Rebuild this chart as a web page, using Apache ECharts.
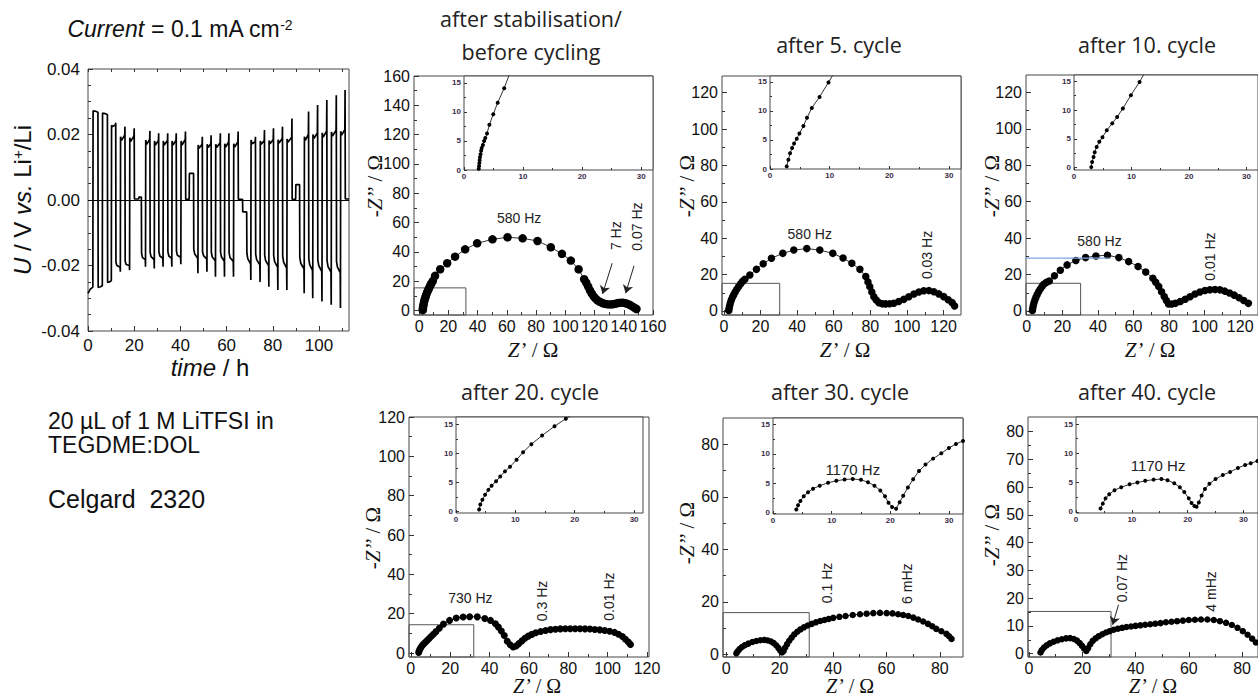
<!DOCTYPE html>
<html>
<head>
<meta charset="utf-8">
<script src="https://cdn.jsdelivr.net/npm/echarts@6/dist/echarts.min.js"></script>
<style>
  html, body { margin: 0; padding: 0; background: #fff; }
  #chart { width: 1258px; height: 699px; }
</style>
</head>
<body>
<div id="chart"></div>
<script>
// ---------- galvanostatic cycling: voltage vs time, one array per block of five cycles ----------
const voltageBlock1 = [
  [0,-0.0285],[1.0,-0.0272],[2.1,-0.0266],
  [2.2,0.0272],[3.3,0.0271],[4.3,0.0268],
  [4.4,-0.0267],[5.4,-0.0265],[6.2,-0.0262],
  [6.3,0.0265],[7.4,0.0264],[8.4,0.0260],
  [8.5,-0.0252],[9.4,-0.0250],[10.1,-0.0246],
  [10.2,0.0228],[10.6,0.0224],[11.9,0.0230],[12.0,0.0236],
  [12.1,-0.0190],[12.5,-0.0200],[13.9,-0.0205],[14.0,-0.0219],
  [14.1,0.0193],[14.5,0.0182],[15.9,0.0198],[16.0,0.0224],
  [16.1,-0.0187],[16.5,-0.0197],[17.9,-0.0200],[18.0,-0.0214],
  [18.1,0.0190],[18.5,0.0179],[19.9,0.0196],[20.0,0.0219],
  [20.1,0.0003],[22.0,0.0003],[22.05,0.0009],[23.1,0.0009]
];
const voltageBlock2 = [
  [23.2,-0.0163],[23.6,-0.0176],[24.8,-0.0182],[24.9,-0.0204],
  [25.0,0.0183],[25.4,0.0170],[26.7,0.0185],[26.8,0.0211],
  [26.9,-0.0160],[27.3,-0.0173],[28.6,-0.0182],[28.7,-0.0209],
  [28.8,0.0180],[29.2,0.0168],[30.5,0.0182],[30.6,0.0204],
  [30.7,-0.0158],[31.1,-0.0171],[32.4,-0.0178],[32.5,-0.0204],
  [32.6,0.0180],[33.0,0.0168],[34.4,0.0182],[34.5,0.0204],
  [34.6,-0.0158],[35.0,-0.0171],[36.2,-0.0178],[36.3,-0.0204],
  [36.4,0.0180],[36.8,0.0168],[38.1,0.0182],[38.2,0.0204],
  [38.3,-0.0156],[38.7,-0.0169],[40.1,-0.0175],[40.2,-0.0196],
  [40.3,0.0180],[40.7,0.0168],[42.1,0.0185],[42.2,0.0209],
  [42.3,0.0002],[43.8,0.0002],[43.9,0.0081],[45.7,0.0081]
];
const voltageBlock3 = [
  [45.8,-0.0150],[46.2,-0.0165],[47.5,-0.0178],[47.6,-0.0224],
  [47.7,0.0168],[48.1,0.0158],[49.4,0.0170],[49.5,0.0193],
  [49.6,-0.0158],[50.0,-0.0170],[51.4,-0.0180],[51.5,-0.0219],
  [51.6,0.0170],[52.0,0.0160],[53.2,0.0172],[53.3,0.0198],
  [53.4,-0.0160],[53.8,-0.0174],[55.1,-0.0185],[55.2,-0.0234],
  [55.3,0.0170],[55.7,0.0160],[57.2,0.0175],[57.3,0.0204],
  [57.4,-0.0160],[57.8,-0.0174],[59.0,-0.0187],[59.1,-0.0234],
  [59.2,0.0172],[59.6,0.0162],[60.9,0.0177],[61.0,0.0204],
  [61.1,-0.0162],[61.5,-0.0176],[62.9,-0.0188],[63.0,-0.0234],
  [63.1,0.0172],[63.5,0.0162],[64.9,0.0178],[65.0,0.0209],
  [65.1,0.0002],[66.9,0.0002],[67.0,-0.0036],[68.7,-0.0036]
];
const voltageBlock4 = [
  [68.8,-0.0163],[69.2,-0.0180],[70.4,-0.0195],[70.5,-0.0244],
  [70.6,0.0183],[71.0,0.0172],[72.4,0.0178],[72.5,0.0193],
  [72.6,-0.0165],[73.0,-0.0182],[74.4,-0.0198],[74.5,-0.0250],
  [74.6,0.0180],[75.0,0.0170],[76.3,0.0182],[76.4,0.0214],
  [76.5,-0.0168],[76.9,-0.0185],[78.2,-0.0200],[78.3,-0.0265],
  [78.4,0.0182],[78.8,0.0172],[80.2,0.0185],[80.3,0.0219],
  [80.4,-0.0170],[80.8,-0.0188],[82.1,-0.0205],[82.2,-0.0275],
  [82.3,0.0184],[82.7,0.0174],[84.1,0.0188],[84.2,0.0224],
  [84.3,-0.0172],[84.7,-0.0190],[86.0,-0.0208],[86.1,-0.0275],
  [86.2,0.0186],[86.6,0.0176],[88.2,0.0192],[88.3,0.0249],
  [88.4,0.0002],[89.9,0.0002],[90.0,0.0047],[91.6,0.0047]
];
const voltageBlock5 = [
  [91.7,-0.0175],[92.1,-0.0193],[93.5,-0.0210],[93.6,-0.0285],
  [93.7,0.0193],[94.1,0.0182],[95.4,0.0200],[95.5,0.0270],
  [95.6,-0.0180],[96.0,-0.0198],[97.2,-0.0215],[97.3,-0.0300],
  [97.4,0.0200],[97.8,0.0188],[99.3,0.0205],[99.4,0.0290],
  [99.5,-0.0183],[99.9,-0.0200],[101.2,-0.0218],[101.3,-0.0310],
  [101.4,0.0205],[101.8,0.0192],[103.3,0.0210],[103.4,0.0305],
  [103.5,-0.0185],[103.9,-0.0203],[105.2,-0.0220],[105.3,-0.0320],
  [105.4,0.0208],[105.8,0.0195],[107.4,0.0213],[107.5,0.0320],
  [107.6,-0.0188],[108.0,-0.0205],[109.2,-0.0222],[109.3,-0.0330],
  [109.4,0.0210],[109.8,0.0198],[111.2,0.0215],[111.3,0.0336],
  [111.4,0.0003],[113.0,0.0003]
];
const timeLabels = [0,20,40,60,80,100];
const timeMinor = [10,30,50,70,90,110];
const voltLabels = [-0.04,-0.02,0,0.02,0.04];
const voltMinor = [-0.035,-0.03,-0.025,-0.015,-0.01,-0.005,0.005,0.01,0.015,0.025,0.03,0.035];

// ---------- impedance spectra: [Z', -Z''] in ohm ----------
const eisStabilised = [
  [2.5,0.3],[2.6,1.5],[2.8,3],[3.1,4.5],[3.4,6],[3.8,7.5],[4.3,9],[4.8,10.6],[5.4,12.2],[6.1,13.8],
  [6.8,15.4],[7.6,17.0],[8.4,18.6],[9.4,20.3],[10.9,23.7],[14.4,28.2],[19.2,32.3],[24.6,36.8],
  [31.5,41.8],[39.7,45.9],[50.2,48.6],[60.5,50.0],[70.8,49.3],[81.0,47.5],[90.1,43.2],[97.7,38.7],
  [103.8,34.1],[109.1,28.2],[112.9,21.4],[114.3,19],[115.6,16.5],[116.8,14],[118,11.8],[119.3,9.9],
  [120.6,8.3],[122,7],[123.6,6],[125.3,5.2],[127,4.6],[128.8,4.3],[130.6,4.2],[132.4,4.3],[134.2,4.7],
  [136,5.1],[137.8,5.4],[139.6,5.4],[141.4,5.0],[143.1,4.4],[144.7,3.6],[146.2,2.7],[147.6,1.8],[148.7,1.1]
];
const eisStabilisedZoom = [
  [2.5,0.2],[2.55,0.7],[2.6,1.2],[2.65,1.7],[2.7,2.2],[2.8,2.7],[2.9,3.3],[3.0,3.8],[3.2,4.3],
  [3.4,5.0],[3.6,5.5],[3.9,6.3],[4.3,7.8],[4.95,9.6],[5.7,11.6],[6.8,14.1],[7.7,16.5]
];
const eisCycle5 = [
  [2.7,0.3],[2.9,1.5],[3.2,3],[3.6,4.5],[4.1,6],[4.7,7.5],[5.4,9],[6.2,10.5],[7.1,12],[8.1,13.5],
  [9.2,15],[10.3,16.3],[11.5,17.4],[14.2,19.8],[17.8,22.9],[21.5,26.0],[26.0,29.0],[32.2,31.7],
  [38.2,33.5],[45.3,34.3],[52.4,33.5],[59.5,31.7],[65.1,29.1],[69.9,26.2],[74.3,22.9],[77.5,18.9],
  [78.7,16.0],[79.7,13.4],[80.8,10.5],[81.9,7.9],[83.2,6.0],[84.7,4.6],[86.5,4.0],[88.3,3.9],
  [90.5,4.0],[92.8,4.3],[95.5,5.2],[98.3,6.4],[101,7.8],[103.8,9.3],[106.5,10.4],[109.2,11.1],
  [112,11.2],[114.7,10.6],[117.4,9.4],[120.1,7.9],[122.5,6.2],[124.7,4.6],[126,2.8]
];
const eisCycle5Zoom = [
  [2.8,0.45],[3.08,1.6],[3.36,2.7],[3.7,3.6],[4.03,4.4],[4.48,5.2],[4.93,6.1],[5.6,7.4],
  [6.2,8.8],[7.0,10.5],[8.3,12.4],[9.8,14.9],[10.6,16.3]
];
const eisCycle10 = [
  [3.2,0.3],[3.4,1.5],[3.7,3],[4.1,4.5],[4.6,6],[5.2,7.5],[5.9,9],[6.7,10.5],[7.6,12],[8.6,13.4],
  [9.6,14.7],[11.0,15.7],[12.7,16.5],[15.6,19.3],[18.9,22.4],[22.7,25.3],[27.6,27.7],[33.1,29.3],
  [38.9,30.2],[45.4,30.6],[51.8,29.3],[57.3,27.1],[62.6,24.4],[66.9,21.4],[70.9,18.0],[72.5,15.8],
  [74.2,13.4],[75.8,10.6],[77.3,7.9],[78.5,5.8],[79.7,3.9],[81.5,3.8],[83.6,4.2],[86.3,5.2],
  [89.1,6.4],[91.8,7.8],[94.6,9.3],[97.4,10.4],[100.2,11.2],[103,11.6],[105.8,11.8],[108.6,11.6],
  [111.3,10.9],[114,9.9],[116.7,8.7],[119.4,7.3],[122,5.8],[124.6,4.2]
];
const eisCycle10Zoom = [
  [3.0,0.1],[3.15,1.0],[3.4,1.85],[3.6,2.7],[3.94,3.6],[4.4,4.5],[4.95,5.3],[5.7,6.5],
  [6.65,7.7],[7.5,8.8],[8.5,10.3],[9.9,12.6],[11.4,14.9],[12.2,16.3]
];
const eisCycle20 = [
  [4.0,0.3],[4.3,1.2],[4.7,2.1],[5.2,3.0],[5.8,3.8],[6.5,4.6],[7.3,5.4],[8.2,6.3],[9.2,7.3],
  [10.3,8.4],[11.5,9.6],[12.8,10.9],[14.5,12.6],[16.6,14.7],[19.7,16.6],[23.1,17.8],[26.6,18.3],
  [29.9,18.5],[33.8,18.4],[37.6,17.6],[40.5,16.6],[43.0,14.9],[44.5,13.2],[46,11.2],[47.5,8.9],
  [49,6.0],[50.5,4.2],[52,3.1],[53.5,3.6],[54.9,4.8],[56.5,6.2],[58,7.5],[59.7,8.6],[61.5,9.5],
  [63.5,10.3],[66,11],[68.5,11.5],[71,11.9],[73.5,12.1],[76,12.3],[78.5,12.4],[81,12.4],[83.5,12.4],
  [86,12.4],[88.5,12.3],[91,12.2],[93.5,12.0],[96,11.8],[98.5,11.5],[101,11.1],[103.5,10.5],
  [105.5,9.6],[107.5,8.4],[109,7.0],[110.5,5.6],[111.6,4.4]
];
const eisCycle20Zoom = [
  [3.9,0.3],[4.1,1.16],[4.45,2.0],[4.9,2.86],[5.45,3.7],[6.0,4.4],[6.75,5.2],[7.45,6.0],[8.25,6.9],
  [9.1,7.7],[10.2,8.9],[11.3,10.2],[12.7,11.6],[14.5,13.1],[16.6,14.7],[18.5,16.0],[19.5,16.6]
];
const eisCycle30 = [
  [3.8,0.4],[4.3,1.2],[5.0,2.0],[5.9,2.8],[7.0,3.5],[8.3,4.1],[9.8,4.7],[11.3,5.1],[12.8,5.4],
  [14.3,5.5],[15.6,5.3],[16.8,4.9],[17.8,4.3],[18.8,3.4],[19.6,2.4],[20.3,1.4],[20.9,0.7],[21.5,1.3],
  [22.1,2.6],[22.8,3.9],[23.6,5.2],[24.5,6.4],[25.5,7.6],[26.6,8.6],[27.8,9.5],[29.1,10.3],[30.5,11.0],
  [32.0,11.6],[33.6,12.2],[35.2,12.7],[36.8,13.1],[38.4,13.5],[40.1,13.9],[42.4,14.3],[44.7,14.6],
  [47.4,15.0],[50.1,15.3],[52.6,15.5],[55.1,15.7],[57.6,15.8],[60.1,15.7],[62.3,15.6],[64.4,15.3],
  [66.3,15.0],[68.2,14.6],[70.1,14.0],[71.9,13.3],[73.8,12.5],[75.6,11.6],[77.2,10.7],[78.7,9.7],
  [80.6,8.8],[82.5,7.8],[83.5,6.9],[84.4,5.9]
];
const eisCycle30Zoom = [
  [3.98,0.57],[4.27,1.3],[4.67,2.0],[5.24,2.8],[5.98,3.5],[6.83,4.1],[7.97,4.6],[9.4,5.1],[10.8,5.45],
  [12.2,5.65],[13.6,5.75],[15.0,5.6],[16.2,5.2],[17.3,4.6],[18.3,3.8],[19.1,2.8],[19.7,1.7],[20.3,1.0],
  [21.0,0.7],[21.6,1.8],[22.2,2.9],[23.0,4.3],[23.9,5.7],[24.9,7.1],[26.0,8.2],[27.3,9.2],[28.7,10.1],
  [30.0,11.0],[31.2,11.7],[32.4,12.2]
];
const eisCycle40 = [
  [4.3,0.4],[4.8,1.3],[5.6,2.2],[6.6,3.0],[7.8,3.7],[9.2,4.3],[10.7,4.8],[12.3,5.2],[13.9,5.5],
  [15.4,5.6],[16.8,5.3],[18.0,4.7],[19.0,3.8],[19.9,2.8],[20.7,1.8],[21.5,1.0],[22.2,2.0],[23.0,3.4],
  [23.9,4.6],[25.0,5.5],[26.2,6.3],[27.5,7.0],[28.9,7.6],[30.3,8.1],[31.8,8.6],[33.4,9.0],[35.0,9.3],
  [36.6,9.6],[38.3,9.8],[40.0,10.0],[41.8,10.2],[43.6,10.4],[45.5,10.6],[47.4,10.8],[49.4,11.0],
  [51.4,11.3],[53.5,11.5],[55.6,11.7],[57.8,11.9],[60.0,12.1],[62.3,12.2],[64.6,12.3],[67.0,12.3],
  [69.4,12.1],[71.7,11.7],[74.0,11.1],[76.2,10.3],[78.3,9.3],[80.3,8.1],[82.1,6.8],[83.8,5.4],[85.2,4.0]
];
const eisCycle40Zoom = [
  [4.4,0.58],[4.8,1.4],[5.3,2.3],[5.95,3.0],[6.9,3.7],[8.1,4.2],[9.6,4.7],[11.0,5.0],[12.4,5.3],
  [13.9,5.5],[15.3,5.6],[16.4,5.4],[17.6,4.9],[18.6,4.2],[19.4,3.4],[20.2,2.3],[20.7,1.5],[21.2,1.0],
  [21.6,0.85],[22.0,1.6],[22.5,2.8],[23.1,3.9],[23.9,4.8],[25.0,5.6],[26.3,6.3],[27.6,6.8],[29.0,7.5],
  [30.3,8.0],[31.3,8.3],[32.5,8.7]
];
const cursorLine10 = [[-11,29],[46.5,29]];

// tick label values
const ohmTo160 = [0,20,40,60,80,100,120,140,160];
const ohmTo160Minor = [10,30,50,70,90,110,130,150];
const ohmTo120 = [0,20,40,60,80,100,120];
const ohmTo120Minor = [10,30,50,70,90,110];
const ohmTo80 = [0,20,40,60,80];
const ohmTo80Minor = [10,30,50,70];
const ohmTo80By10 = [0,10,20,30,40,50,60,70,80];
const ohmTo80By10Minor = [5,15,25,35,45,55,65,75];
const zoomX = [0,10,20,30];
const zoomXMinor = [5,15,25];
const zoomY = [0,5,10,15];
const zoomYMinor = [2.5,7.5,12.5];

// ---------- layout ----------
const SANS = '"Liberation Sans", Arial, sans-serif';
const SERIF = '"Liberation Serif", "Times New Roman", serif';
const HEAD = '"Open Sans", "Noto Sans", sans-serif';

const panels = [
  { data: eisStabilised, zoom: eisStabilisedZoom, sym: 8.5,
    main: {left:414, top:76, width:239, height:239}, xr:[-3.5,160], yr:[-3,160],
    xl: ohmTo160, xm: ohmTo160Minor, yl: ohmTo160, ym: ohmTo160Minor,
    inset: {left:464, top:76, width:189, height:94}, ixr:[0,32], iyr:[0,16.2],
    box: [[-3.5,-3],[32,15.5]],
    notes: [{t:'580 Hz', at:[68.4,63]}, {t:'7 Hz', at:[134.4,51.1], rot:true}, {t:'0.07 Hz', at:[148.8,57.3], rot:true}],
    arrows: [[[132.1,32.3],[125.5,11.4]], [[147,30.5],[141.3,11.9]]],
    yName:[375,186], xName:[533,350] },
  { data: eisCycle5, zoom: eisCycle5Zoom, sym: 7.5,
    main: {left:722, top:76, width:239, height:239}, xr:[-1,129.5], yr:[-2.2,129.2],
    xl: ohmTo120, xm: ohmTo120Minor, yl: ohmTo120, ym: ohmTo120Minor,
    inset: {left:770, top:76, width:191, height:93}, ixr:[0,32], iyr:[0,16],
    box: [[-1,-2.2],[30.5,15.2]],
    notes: [{t:'580 Hz', at:[46.9,42.2]}, {t:'0.03 Hz', at:[111,30.8], rot:true}],
    arrows: [], yName:[687,186], xName:[845,350] },
  { data: eisCycle10, zoom: eisCycle10Zoom, sym: 7.5,
    main: {left:1026, top:75, width:239, height:240}, xr:[-0.4,130], yr:[-2.2,129.5],
    xl: ohmTo120, xm: ohmTo120Minor, yl: ohmTo120, ym: ohmTo120Minor,
    inset: {left:1074, top:75, width:190, height:95}, ixr:[0,32], iyr:[-0.4,16.1],
    box: [[-0.4,-2.2],[30.3,15.2]],
    notes: [{t:'580 Hz', at:[40.9,38.5]}, {t:'0.01 Hz', at:[103.1,29.9], rot:true}],
    arrows: [], cursor: cursorLine10, yName:[992,186], xName:[1150,350] },
  { data: eisCycle20, zoom: eisCycle20Zoom, sym: 7,
    main: {left:409, top:417, width:240, height:240}, xr:[-0.9,121], yr:[-2,120],
    xl: ohmTo120, xm: ohmTo120Minor, yl: ohmTo120, ym: ohmTo120Minor,
    inset: {left:456, top:417, width:187, height:96}, ixr:[0,31.5], iyr:[-0.3,16.3],
    box: [[-0.9,-2],[32,14.4]],
    notes: [{t:'730 Hz', at:[30.3,28.2]}, {t:'0.3 Hz', at:[66.8,26.5], rot:true}, {t:'0.01 Hz', at:[100.8,28.7], rot:true}],
    arrows: [], yName:[373,538], xName:[537,686] },
  { data: eisCycle30, zoom: eisCycle30Zoom, sym: 6.5,
    main: {left:723, top:418, width:240, height:239}, xr:[-1.2,88.7], yr:[-1,90],
    xl: ohmTo80, xm: ohmTo80Minor, yl: ohmTo80, ym: ohmTo80Minor,
    inset: {left:773, top:418, width:190, height:96}, ixr:[0,32.4], iyr:[-0.2,16.1],
    box: [[-1.2,-1],[31.1,15.9]],
    notes: [{t:'0.1 Hz', at:[37.6,27.2], rot:true}, {t:'6 mHz', at:[67.9,26.9], rot:true}],
    zoomNotes: [{t:'1170 Hz', at:[13.6,7.3]}],
    arrows: [], yName:[687,533], xName:[850,686] },
  { data: eisCycle40, zoom: eisCycle40Zoom, sym: 6.5,
    main: {left:1028, top:417, width:240, height:240}, xr:[-0.4,86], yr:[-1.2,85.2],
    xl: ohmTo80, xm: ohmTo80Minor, yl: ohmTo80By10, ym: ohmTo80By10Minor,
    inset: {left:1076, top:417, width:190, height:96}, ixr:[0,32.6], iyr:[-0.2,16.2],
    box: [[-0.4,-1.2],[30.8,15.2]],
    notes: [{t:'0.07 Hz', at:[35.0,27.2], rot:true}, {t:'4 mHz', at:[68.3,22.4], rot:true}],
    zoomNotes: [{t:'1170 Hz', at:[14.7,7.9]}],
    arrows: [[[33.6,17.6],[31.4,10.4]]], yName:[992,535], xName:[1153,686] }
];

const panelTitles = [
  {t:'after stabilisation/', x:531, y:18}, {t:'before cycling', x:531, y:51},
  {t:'after 5. cycle', x:839, y:44}, {t:'after 10. cycle', x:1147, y:44},
  {t:'after 20. cycle', x:530, y:391}, {t:'after 30. cycle', x:840, y:391},
  {t:'after 40. cycle', x:1147, y:391}
];

// ---------- option building ----------
const option = { animation: false, backgroundColor: '#fff', grid: [], xAxis: [], yAxis: [], series: [], graphic: [] };

function addGrid(r, bg) {
  option.grid.push({ left: r.left, top: r.top, width: r.width, height: r.height, show: true,
    borderColor: '#474747', borderWidth: 1, backgroundColor: bg || 'transparent' });
  return option.grid.length - 1;
}

// a labelled axis with long ticks plus an overlaid axis carrying the short in-between ticks
function addAxisPair(list, gi, pos, range, labels, minors, look) {
  const base = { type: 'value', gridIndex: gi, position: pos, min: range[0], max: range[1],
    axisLine: { show: false, onZero: false }, splitLine: { show: false } };
  const label = { show: true, customValues: labels, margin: look.margin, fontSize: look.fs,
    fontFamily: SANS, fontWeight: look.fw || 'normal', color: look.color || '#111' };
  if (look.fmt) label.formatter = look.fmt;
  list.push(Object.assign({}, base, {
    axisTick: { show: true, inside: true, length: look.major, customValues: labels, lineStyle: { color: '#333', width: 1 } },
    axisLabel: label }));
  const idx = list.length - 1;
  list.push(Object.assign({}, base, {
    axisTick: { show: true, inside: true, length: look.minor, customValues: minors, lineStyle: { color: '#333', width: 1 } },
    axisLabel: { show: false } }));
  return idx;
}

// voltage profile
const gV = addGrid({ left: 88, top: 69, width: 261, height: 262 });
const vx = addAxisPair(option.xAxis, gV, 'bottom', [0,113], timeLabels, timeMinor, { major: 5, minor: 3, margin: 6, fs: 17 });
const vy = addAxisPair(option.yAxis, gV, 'left', [-0.04,0.04], voltLabels, voltMinor,
  { major: 5, minor: 3, margin: 8, fs: 17, fmt: v => v.toFixed(2) });
option.xAxis.push({ type: 'value', gridIndex: gV, position: 'top', min: 0, max: 113,
  axisLine: { show: false, onZero: false }, splitLine: { show: false },
  axisTick: { show: true, inside: true, length: 3, customValues: timeLabels.concat(timeMinor), lineStyle: { color: '#333' } },
  axisLabel: { show: false } });
option.series.push({
  type: 'line', xAxisIndex: vx, yAxisIndex: vy, symbol: 'none',
  data: [].concat(voltageBlock1, voltageBlock2, voltageBlock3, voltageBlock4, voltageBlock5),
  lineStyle: { color: '#000', width: 1.7 },
  markLine: { silent: true, symbol: 'none', label: { show: false },
    lineStyle: { color: '#000', width: 1.2, type: 'solid' }, data: [{ yAxis: 0 }] }
});

// impedance panels
panels.forEach(p => {
  const gm = addGrid(p.main);
  p.mx = addAxisPair(option.xAxis, gm, 'bottom', p.xr, p.xl, p.xm, { major: 5, minor: 3, margin: 3, fs: 16 });
  p.my = addAxisPair(option.yAxis, gm, 'left', p.yr, p.yl, p.ym, { major: 5, minor: 3, margin: 4, fs: 16 });
  const mainSeries = {
    type: 'line', xAxisIndex: p.mx, yAxisIndex: p.my, data: p.data,
    symbol: 'circle', symbolSize: p.sym, showAllSymbol: true,
    lineStyle: { color: '#333', width: 1 }, itemStyle: { color: '#000' },
    markArea: { silent: true, itemStyle: { color: 'rgba(0,0,0,0)', borderColor: '#555', borderWidth: 1 },
      data: [[{ coord: p.box[0] }, { coord: p.box[1] }]] }
  };
  if (p.arrows.length) {
    mainSeries.markLine = { silent: true, symbol: ['none', 'arrow'], symbolSize: 8,
      label: { show: false }, lineStyle: { color: '#222', width: 1, type: 'solid' },
      data: p.arrows.map(a => [{ coord: a[0], symbol: 'none' }, { coord: a[1], symbol: 'arrow', symbolSize: 8 }]) };
  }
  option.series.push(mainSeries);
  if (p.cursor) {
    option.series.push({ type: 'line', xAxisIndex: p.mx, yAxisIndex: p.my, data: p.cursor, clip: false,
      symbol: 'none', lineStyle: { color: '#7ea6de', width: 1.2 }, z: 5 });
  }
  const gi = addGrid(p.inset, '#fff');
  p.ix = addAxisPair(option.xAxis, gi, 'bottom', p.ixr, zoomX, zoomXMinor,
    { major: 3, minor: 2, margin: 2, fs: 8, fw: 'bold', color: '#3b2b48' });
  p.iy = addAxisPair(option.yAxis, gi, 'left', p.iyr, zoomY, zoomYMinor,
    { major: 3, minor: 2, margin: 3, fs: 8, fw: 'bold', color: '#3b2b48' });
  option.series.push({
    type: 'line', xAxisIndex: p.ix, yAxisIndex: p.iy, data: p.zoom,
    symbol: 'circle', symbolSize: 4, showAllSymbol: true,
    lineStyle: { color: '#333', width: 1 }, itemStyle: { color: '#000' }
  });
});

// fixed texts
function txt(text, x, y, o) {
  o = o || {};
  return { type: 'text', x: x, y: y, rotation: o.rot ? Math.PI / 2 : 0, z: 50,
    style: { text: text, fontSize: o.fs || 14, fontFamily: o.ff || SANS, fontStyle: o.style || 'normal',
      fill: o.fill || '#222', align: o.align || 'center', verticalAlign: 'middle',
      textAlign: o.align || 'center', textVerticalAlign: 'middle', rich: o.rich } };
}
const sansRich = size => ({
  i: { fontStyle: 'italic', fontSize: size, fontFamily: SANS, fill: '#111' },
  s: { fontSize: Math.round(size * 0.62), fontFamily: SANS, fill: '#111', verticalAlign: 'top' }
});
const serifRich = size => ({ i: { fontStyle: 'italic', fontSize: size, fontFamily: SERIF, fill: '#111' } });

option.graphic.push(txt('{i|Current} = 0.1 mA cm{s|-2}', 180, 29, { fs: 23, fill: '#111', rich: sansRich(23) }));
option.graphic.push(txt('{i|U} / V {i|vs.} Li{s|+}/Li', 22, 200, { fs: 24, fill: '#111', rot: true, rich: sansRich(24) }));
option.graphic.push(txt('{i|time} / h', 210, 367, { fs: 24, fill: '#111', rich: sansRich(24) }));
option.graphic.push(txt('20 µL of 1 M LiTFSI in', 48, 421, { fs: 23, fill: '#111', align: 'left' }));
option.graphic.push(txt('TEGDME:DOL', 48, 445, { fs: 23, fill: '#111', align: 'left' }));
option.graphic.push(txt('Celgard  2320', 48, 499, { fs: 25, fill: '#111', align: 'left' }));
panelTitles.forEach(h => option.graphic.push(txt(h.t, h.x, h.y, { fs: 21.5, ff: HEAD, fill: '#222' })));
panels.forEach((p, k) => {
  const fx = k < 3 ? 21 : 20;
  option.graphic.push(txt('-{i|Z’’} / Ω', p.yName[0], p.yName[1], { fs: 21, ff: SERIF, fill: '#111', rot: true, rich: serifRich(21) }));
  option.graphic.push(txt('{i|Z’} / Ω', p.xName[0], p.xName[1], { fs: fx, ff: SERIF, fill: '#111', rich: serifRich(fx) }));
});

const chart = echarts.init(document.getElementById('chart'), null, { renderer: 'svg', width: 1258, height: 699 });
chart.setOption(option);

// frequency annotations, placed at their data coordinates
const notes = [];
panels.forEach(p => {
  p.notes.forEach(n => {
    const pt = chart.convertToPixel({ xAxisIndex: p.mx, yAxisIndex: p.my }, n.at);
    notes.push(txt(n.t, pt[0], pt[1], { fs: 14, rot: n.rot }));
  });
  (p.zoomNotes || []).forEach(n => {
    const pt = chart.convertToPixel({ xAxisIndex: p.ix, yAxisIndex: p.iy }, n.at);
    notes.push(txt(n.t, pt[0], pt[1], { fs: 15 }));
  });
});
chart.setOption({ graphic: option.graphic.concat(notes) });
</script>
</body>
</html>
